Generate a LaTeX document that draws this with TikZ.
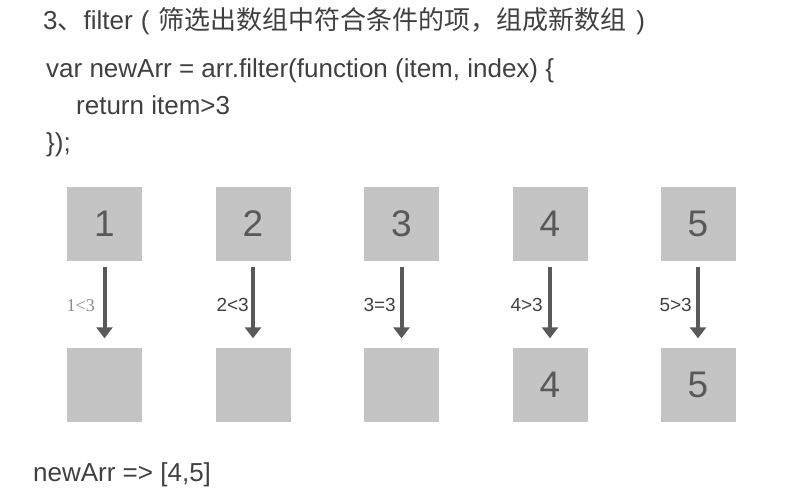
\documentclass[tikz,border=0pt]{standalone}
\usepackage{fontspec}
\setmainfont{Liberation Sans}
\newfontfamily\cjk{Noto Sans CJK SC}
\newfontfamily\serifx{Liberation Serif}
\usetikzlibrary{arrows.meta}
\definecolor{txt}{HTML}{404040}
\definecolor{boxfill}{HTML}{C4C4C4}
\definecolor{dark}{HTML}{595959}
\definecolor{lbl}{HTML}{8C8C8C}
\begin{document}
\begin{tikzpicture}[x=1pt,y=-1pt,
  line/.style={anchor=base west,inner sep=0,text=txt,font=\fontsize{26}{30}\selectfont},
  cell/.style={fill=boxfill,minimum width=75pt,minimum height=74pt,inner sep=0,text=dark,font=\fontsize{37}{40}\selectfont},
  flow/.style={draw=dark,line width=4pt,-{Triangle[width=16pt,length=11pt]},shorten <=6pt,shorten >=9pt},
  cond/.style={anchor=base east,inner sep=0,text=txt,font=\fontsize{19}{20}\selectfont}]
\useasboundingbox (0,0) rectangle (795,494);
\node[line] (title) at (43,30) {3{\cjk 、}filter\hspace{8pt}(\hspace{9pt}{\cjk 筛选出数组中符合条件的项，组成新数组}\hspace{10pt})};
\node[line] (l1) at (46,78) {var newArr = arr.filter(function (item, index) \{};
\node[line] (l2) at (76,115) {return item>3};
\node[line] (l3) at (46,152) {\});};
\foreach \i/\x/\v/\w in {1/104.5/1/{},2/253/2/{},3/401.5/3/{},4/550/4/4,5/698/5/5}{
  \node[cell] (t\i) at (\x,224) {\v};
  \node[cell] (b\i) at (\x,384.5) {\w};
  \draw[flow] (t\i) -- (b\i);
}
\node[cond,text=lbl,font=\serifx\fontsize{18}{20}\selectfont] (c1) at (95,312) {1<3};
\node[cond] (c2) at (249,312) {2<3};
\node[cond] (c3) at (396,312) {3=3};
\node[cond] (c4) at (543,312) {4>3};
\node[cond] (c5) at (692,312) {5>3};
\node[line] (res) at (33,481) {newArr => [4,5]};
\end{tikzpicture}
\end{document}
